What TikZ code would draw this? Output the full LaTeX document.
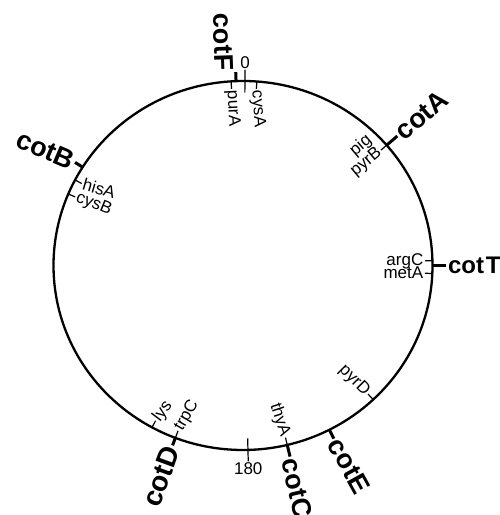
\documentclass[tikz,border=0pt]{standalone}
\usepackage{fontspec}
\setmainfont{Liberation Sans}
\usepackage{tikz}
\usetikzlibrary{calc}

\tikzset{
  gene/.style={font=\fontsize{17}{19}\selectfont, inner sep=1pt},
  cot/.style={font=\fontsize{#1}{#1}\selectfont\bfseries, inner sep=0.5pt},
  maptick/.style={line width=1.2pt},
  cottick/.style={line width=3pt},
}

\begin{document}
\begin{tikzpicture}[x=1pt, y=1pt]
  \useasboundingbox (0,0) rectangle (500,515);
  \coordinate (o) at (243,249.5);
  \draw[line width=2.3pt] (o) ellipse [x radius=189.5, y radius=184.5];

  % genes inside the circle
  \foreach \a/\lab/\r/\anc in {-3.6/purA/-87/west, 4.2/cysA/-86/west, 49.3/pyrB/40/east,
      88.5/argC/0/east, 92.5/metA/0/east, 136.6/pyrD/-45/east, 166.5/thyA/-72/east,
      200.9/trpC/60/west, 208.7/lys/53/west, 292.8/cysB/-22/west, 297.6/hisA/-16/west}
    { \draw[maptick] ($(o)+({90-\a}:189.5pt and 184.5pt)$) -- ($(o)+({90-\a}:182pt and 177pt)$)
        node[gene, anchor=\anc, rotate=\r] (\lab) {\lab}; }
  \node[gene, anchor=south east, rotate=40, yshift=-2pt] (pig) at (pyrB.north east) {pig};

  % cot genes outside: angle/name/rotation/anchor/tick length/size
  \foreach \a/\lab/\r/\anc/\len/\fs in {-2.1/cotF/-88/north east/9/27, 49.3/cotA/40.7/west/14/27,
      152.9/cotE/-61/west/10/27, 166.5/cotC/-77/west/12/27,
      200.9/cotD/70/east/8/28, 302.2/cotB/-23/east/9/27}
    { \draw[cottick] ($(o)+({90-\a}:189.5pt and 184.5pt)$) -- ($(o)+({90-\a}:{189.5+\len} and {184.5+\len})$)
        node[cot=\fs, anchor=\anc, rotate=\r] (\lab) {\lab}; }
  \draw[cottick] ($(o)+(0:189.5pt and 184.5pt)$) -- ($(o)+(0:203pt and 198pt)$)
    node[cot=24, anchor=west] (cotT) {cot\hspace{2pt}T};

  % 0 and 180
  \draw[maptick] ($(o)+(89.4:178pt and 173pt)$) -- ($(o)+(89.4:201pt and 196pt)$)
    node[gene, anchor=south, inner sep=0.5pt] (zero) {0};
  \draw[maptick] ($(o)+(-88.5:178pt and 173pt)$) -- ($(o)+(-88.5:201pt and 196pt)$)
    node[gene, anchor=north] (half) {180};
\end{tikzpicture}
\end{document}
